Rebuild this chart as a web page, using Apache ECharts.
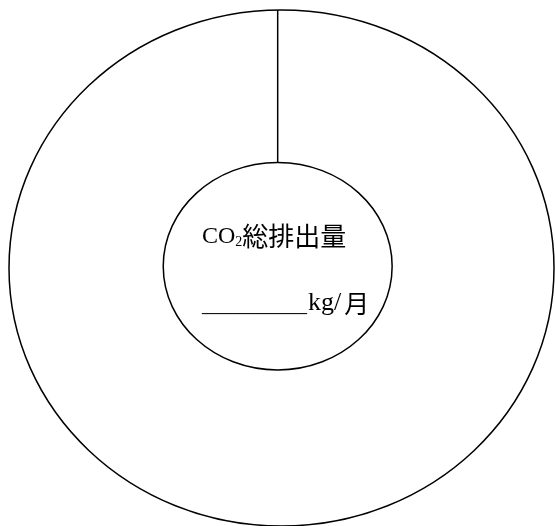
<!DOCTYPE html>
<html>
<head>
	<meta charset="utf-8">
	<title>CO2 ring</title>
	<script src="https://cdn.jsdelivr.net/npm/echarts@6/dist/echarts.min.js"></script>
	<style type="text/css">
		html, body{ margin:0; padding:0; background:#fff; }
		#main{ width:555px; height:526px; }
	</style>
</head>
<body>
	<div id="main"></div>
	<script type="text/javascript">
		// rings in data units: [centerX, centerY, radiusX, radiusY]
		var ringNames = ['outer', 'inner'];
		var ringCenterX = [0, -1.4];
		var ringCenterY = [0, 0.7];
		var ringRadiusX = [100, 42];
		var ringRadiusY = [100, 40.2];
		// divider from inner ring top to outer ring top
		var dividerX = [-1.4];

		var titleText = '総排出量';
		var unitText = 'kg/';
		var unitMonth = '月';

		var ringData = [];
		for (var i = 0; i < ringNames.length; i++) {
			ringData.push({name: ringNames[i], value: [ringCenterX[i], ringCenterY[i], ringRadiusX[i], ringRadiusY[i]]});
		}

		// y of the top edge of ring i at data x
		var topY = function(i, x){
			var dx = (x - ringCenterX[i]) / ringRadiusX[i];
			return ringCenterY[i] + ringRadiusY[i] * Math.sqrt(Math.max(0, 1 - dx * dx));
		};
		var dividerData = [];
		for (var j = 0; j < dividerX.length; j++) {
			dividerData.push([dividerX[j], topY(1, dividerX[j]), topY(0, dividerX[j])]);
		}

		var latin = 'Liberation Serif';
		var cjk = 'Noto Sans CJK JP';

		var myChart = echarts.init(document.getElementById('main'));
		var option = {
			animation: false,
			grid: { left: 9, top: 10, width: 545, height: 517 },
			xAxis: { type: 'value', min: -100, max: 100, show: false },
			yAxis: { type: 'value', min: -100, max: 100, show: false },
			series: [{
				type: 'custom',
				data: ringData,
				renderItem: function(params, api){
					var c = api.coord([api.value(0), api.value(1)]);
					var s = api.size([api.value(2), api.value(3)]);
					return {
						type: 'ellipse',
						shape: { cx: c[0], cy: c[1], rx: s[0], ry: s[1] },
						style: { fill: 'none', stroke: '#000', lineWidth: 1.5 }
					};
				}
			}, {
				type: 'custom',
				data: dividerData,
				renderItem: function(params, api){
					var p1 = api.coord([api.value(0), api.value(1)]);
					var p2 = api.coord([api.value(0), api.value(2)]);
					return {
						type: 'line',
						shape: { x1: p1[0], y1: p1[1], x2: p2[0], y2: p2[1] },
						style: { stroke: '#000', lineWidth: 1.5 }
					};
				}
			}],
			graphic: [{
				type: 'text',
				left: 202,
				top: 223,
				style: {
					text: '{a|CO}{b|2}{c|' + titleText + '}',
					rich: {
						a: { fontFamily: latin, fontSize: 24, fontWeight: 'normal', color: '#222', verticalAlign: 'bottom', lineHeight: 30 },
						b: { fontFamily: latin, fontSize: 14, fontWeight: 'normal', color: '#222', verticalAlign: 'bottom', lineHeight: 26 },
						c: { fontFamily: cjk, fontSize: 26, fontWeight: 'normal', color: '#222', verticalAlign: 'bottom', lineHeight: 30 }
					}
				}
			}, {
				type: 'text',
				left: 202,
				top: 290,
				style: {
					text: '{u|__________}{a|' + unitText + '}{c|' + unitMonth + '}',
					rich: {
						u: { fontFamily: latin, fontSize: 21, fontWeight: 'normal', color: '#222', verticalAlign: 'bottom', lineHeight: 30 },
						a: { fontFamily: latin, fontSize: 26, fontWeight: 'normal', color: '#222', verticalAlign: 'bottom', lineHeight: 30, padding: [0, 3, 0, 1] },
						c: { fontFamily: cjk, fontSize: 25, fontWeight: 'normal', color: '#222', verticalAlign: 'bottom', lineHeight: 30 }
					}
				}
			}]
		};
		myChart.setOption(option);
	</script>
</body>
</html>
